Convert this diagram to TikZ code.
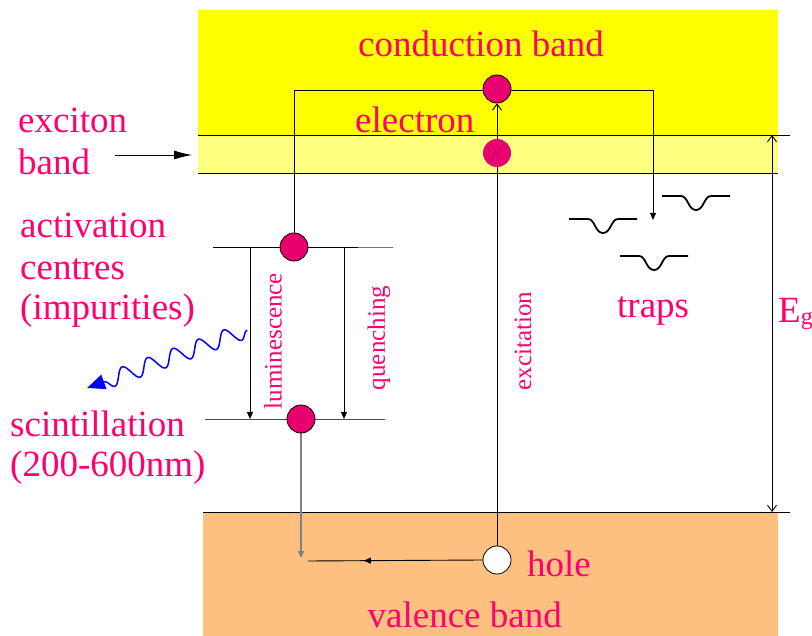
\documentclass[tikz,border=0pt]{standalone}
\usepackage{fontspec}
\setmainfont{Liberation Serif}
\newfontfamily\diagserif{Liberation Serif}
\usetikzlibrary{arrows.meta,decorations.pathmorphing,decorations.markings}
\definecolor{txtpink}{RGB}{255,0,110}
\definecolor{dotpink}{RGB}{232,0,110}
\definecolor{cbyellow}{RGB}{255,255,0}
\definecolor{exyellow}{RGB}{255,255,128}
\definecolor{vborange}{RGB}{253,192,128}
\pgfdeclarelayer{back}
\pgfdeclarelayer{lines}
\pgfsetlayers{back,lines,main}
\begin{document}
\begin{tikzpicture}[x=1pt,y=-1pt,
  lbl/.style={text=txtpink, font=\diagserif\fontsize{37}{41}\selectfont, inner sep=0, anchor=base west},
  slbl/.style={text=txtpink, font=\diagserif\fontsize{25}{28}\selectfont, inner sep=0, rotate=90},
  dot/.style={circle, draw=black, line width=0.8pt, fill=dotpink, minimum size=28pt, inner sep=0},
  hdot/.style={dot, fill=white},
  conn/.style={line width=0.9pt},
  tipS/.tip={Triangle[length=7pt,width=6pt]},
  barb/.tip={Straight Barb[length=6pt,width=9pt]},
  trapline/.style={line width=1.8pt, black},
  trapdip/.pic={\draw[trapline] (-34,0) -- (-15,0) .. controls (-8,0) and (-8,14) .. (0,14) .. controls (8,14) and (8,0) .. (15,0) -- (34,0);}
]
\useasboundingbox (0,0) rectangle (812,636);

% bands
\begin{pgfonlayer}{back}
  \fill[cbyellow] (198,10) rectangle (778,135);
  \fill[exyellow] (198,135) rectangle (778,173);
  \fill[vborange] (203,512) rectangle (778,636);
\end{pgfonlayer}

% named points
\coordinate (cbL) at (198,135);  \coordinate (cbR) at (790,135);
\coordinate (exL) at (198,173);  \coordinate (exR) at (778,173);
\coordinate (vbL) at (203,512);  \coordinate (vbR) at (790,512);
\coordinate (a1L) at (213,247);  \coordinate (a1M) at (358,247); \coordinate (a1R) at (393,247);
\coordinate (a2L) at (205,419);  \coordinate (a2R) at (385,419);
\coordinate (lumT) at (250,247); \coordinate (lumB) at (250,419);
\coordinate (queT) at (344,247); \coordinate (queB) at (344,419);
\coordinate (brR) at (653,90);   \coordinate (brTip) at (653,220);
\coordinate (egT) at (772,135);  \coordinate (egB) at (772,512);
\coordinate (exA) at (115,155);  \coordinate (exB) at (192,155);
\coordinate (hEnd) at (308,561);
\coordinate (wS) at (247,330);   \coordinate (wE) at (87,388);

% particles
\node[dot] (el) at (497,89) {};
\node[dot, draw=none] (exc) at (497,153) {};
\node[dot] (act) at (294,247) {};
\node[dot] (low) at (301,419) {};
\node[hdot] (hole) at (497,560) {};
\coordinate (grayEnd) at (low.south |- 0,558);

\begin{pgfonlayer}{lines}
  \draw[conn] (cbL) -- (cbR);
  \draw[conn] (exL) -- (exR);
  \draw[conn] (vbL) -- (vbR);
  \draw[conn] (a1L) -- (a1M);
  \draw[conn, black!55] (a1M) -- (a1R);
  \draw[conn, black!70] (a2L) -- (a2R);
  \draw[conn,-tipS] (lumT) -- (lumB);
  \draw[conn,-tipS] (queT) -- (queB);
  \draw[conn] (act.north) |- (brR);
  \draw[conn,-tipS] (brR) -- (brTip);
  \draw[conn,-barb] (hole.north) -- (el.south);
  \draw[conn,barb-barb] (egT) -- (egB);
  \draw[conn,-{Latex[length=18pt,width=9pt]}] (exA) -- (exB);
  \draw[line width=1.3pt, black!50, -tipS] (low.south) -- (grayEnd);
  \draw[conn, postaction=decorate,
        decoration={markings, mark=at position 0.68 with {\arrow{tipS}}}]
        (hole.west) -- (hEnd);
  \draw[blue, line width=1.5pt, decorate,
        decoration={snake, amplitude=8pt, segment length=27pt, post length=16pt},
        -{Triangle[length=18pt,width=15pt]}] (wS) -- (wE);
  \pic at (603,219) {trapdip};
  \pic at (696,196) {trapdip};
  \pic at (654,256) {trapdip};
\end{pgfonlayer}

% texts
\node[lbl, anchor=base] (tcb) at (481,57) {conduction band};
\node[lbl] (tel) at (355,133) {electron};
\node[lbl] (tex1) at (18,133) {exciton};
\node[lbl] (tex2) at (18,175) {band};
\node[lbl] (tac1) at (20,238) {activation};
\node[lbl] (tac2) at (20,280) {centres};
\node[lbl] (tac3) at (20,320) {(impurities)};
\node[lbl] (tsc1) at (10,437) {scintillation};
\node[lbl] (tsc2) at (10,477) {(200-600nm)};
\node[lbl] (ttr) at (617,318) {traps};
\node[lbl] (tho) at (527,576) {hole};
\node[lbl, anchor=base east] (tvb) at (562,627) {valence band};
\node[lbl] (teg) at (778,323) {E\raisebox{-2pt}{\fontsize{24}{24}\selectfont g}};
\node[slbl] (tlum) at (273,341) {luminescence};
\node[slbl] (tque) at (379,338) {quenching};
\node[slbl] (texc) at (523,341) {excitation};
\end{tikzpicture}
\end{document}
